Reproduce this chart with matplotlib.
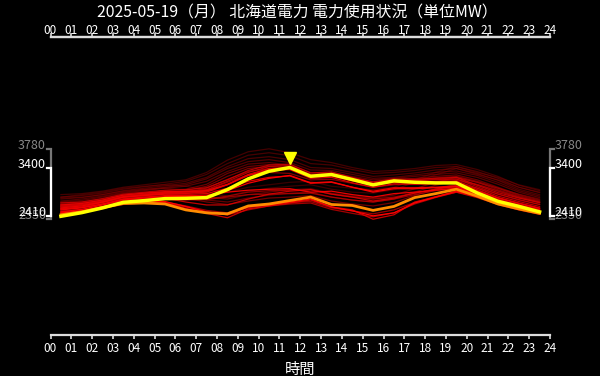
import matplotlib
matplotlib.use("Agg")
import matplotlib.pyplot as plt
from matplotlib.transforms import blended_transform_factory, ScaledTranslation
import numpy as np

plt.rcParams['font.family'] = ['Noto Sans CJK JP', 'DejaVu Sans']

title = "2025-05-19（月） 北海道電力 電力使用状況（単位MW）"
xlabel = "時間"
hours = [h + 0.5 for h in range(24)]
xtick_labels = [f"{h:02d}" for h in range(25)]

# past days, oldest first (darker -> brighter red)
past_days = [
    [2800, 2850, 2900, 2980, 3020, 3050, 3020, 2950, 2900, 3000, 3050, 3100, 3120, 3020, 2980, 2950, 3000, 3150, 3300, 3420, 3300, 3200, 3050, 2950],
    [2780, 2800, 2850, 2920, 2960, 2980, 2950, 2880, 2820, 2920, 2980, 3020, 3050, 2960, 2900, 2880, 2950, 3100, 3250, 3380, 3260, 3150, 3000, 2900],
    [2850, 2870, 2920, 3000, 3050, 3100, 3150, 3300, 3550, 3720, 3780, 3700, 3560, 3500, 3400, 3320, 3340, 3380, 3440, 3460, 3360, 3220, 3040, 2930],
    [2800, 2830, 2880, 2960, 3010, 3060, 3120, 3260, 3480, 3650, 3700, 3640, 3480, 3450, 3360, 3280, 3300, 3340, 3400, 3420, 3320, 3180, 3000, 2890],
    [2760, 2790, 2850, 2930, 2980, 3030, 3080, 3200, 3420, 3580, 3620, 3560, 3400, 3380, 3300, 3220, 3250, 3290, 3350, 3380, 3280, 3140, 2960, 2850],
    [2720, 2760, 2820, 2900, 2950, 3000, 3050, 3170, 3380, 3520, 3560, 3500, 3350, 3340, 3260, 3180, 3200, 3250, 3300, 3330, 3240, 3100, 2930, 2820],
    [2700, 2730, 2800, 2880, 2930, 2980, 3020, 3120, 3320, 3470, 3500, 3450, 3300, 3300, 3220, 3150, 3180, 3220, 3260, 3290, 3200, 3060, 2900, 2790],
    [2680, 2700, 2760, 2840, 2880, 2900, 2870, 2800, 2760, 2850, 2900, 2950, 2970, 2880, 2820, 2780, 2840, 2970, 3100, 3200, 3100, 2980, 2860, 2760],
    [2650, 2680, 2730, 2800, 2840, 2860, 2820, 2740, 2700, 2780, 2840, 2880, 2900, 2800, 2740, 2700, 2760, 2900, 3040, 3140, 3050, 2930, 2800, 2700],
    [2650, 2680, 2740, 2830, 2880, 2930, 2960, 3060, 3280, 3420, 3460, 3420, 3260, 3280, 3180, 3100, 3150, 3180, 3220, 3250, 3150, 3000, 2850, 2740],
    [2620, 2650, 2700, 2770, 2800, 2820, 2780, 2700, 2650, 2720, 2780, 2800, 2830, 2720, 2660, 2620, 2690, 2830, 2960, 3060, 2980, 2860, 2740, 2650],
    [2620, 2650, 2720, 2800, 2850, 2900, 2930, 3020, 3220, 3380, 3420, 3400, 3230, 3250, 3160, 3080, 3120, 3150, 3190, 3220, 3120, 2980, 2830, 2720],
    [2600, 2640, 2700, 2790, 2840, 2880, 2900, 2980, 3160, 3320, 3380, 3360, 3200, 3220, 3130, 3060, 3100, 3120, 3160, 3200, 3100, 2950, 2810, 2700],
    [2600, 2620, 2690, 2770, 2820, 2860, 2870, 2940, 3100, 3250, 3300, 3280, 3150, 3160, 3080, 3000, 3050, 3080, 3120, 3160, 3060, 2920, 2790, 2680],
    [2560, 2590, 2640, 2720, 2750, 2780, 2760, 2760, 2820, 2900, 2930, 2940, 2950, 2860, 2800, 2760, 2800, 2880, 2960, 3020, 2920, 2780, 2660, 2570],
    [2520, 2550, 2610, 2690, 2720, 2750, 2740, 2750, 2800, 2850, 2860, 2870, 2880, 2800, 2740, 2700, 2760, 2850, 2930, 2990, 2880, 2740, 2620, 2530],
    [2500, 2530, 2590, 2670, 2700, 2700, 2620, 2530, 2480, 2580, 2650, 2690, 2710, 2580, 2520, 2460, 2540, 2690, 2810, 2920, 2840, 2720, 2600, 2510],
    [2480, 2510, 2570, 2650, 2680, 2680, 2600, 2500, 2440, 2540, 2620, 2660, 2680, 2550, 2470, 2400, 2480, 2660, 2790, 2900, 2820, 2700, 2580, 2490],
    [2620, 2650, 2720, 2820, 2860, 2900, 2920, 2950, 3120, 3300, 3420, 3440, 3260, 3280, 3180, 3090, 3150, 3140, 3150, 3170, 3010, 2860, 2750, 2650],
    [2680, 2700, 2770, 2860, 2900, 2940, 2950, 2990, 3150, 3340, 3450, 3470, 3290, 3310, 3200, 3110, 3170, 3160, 3180, 3200, 3040, 2890, 2780, 2690],
    [2600, 2640, 2710, 2810, 2850, 2890, 2900, 2920, 3050, 3240, 3360, 3400, 3220, 3240, 3140, 3060, 3110, 3100, 3110, 3130, 2980, 2820, 2710, 2610],
    [2560, 2590, 2660, 2750, 2780, 2780, 2700, 2640, 2640, 2760, 2860, 2920, 2950, 2860, 2800, 2720, 2780, 2880, 2960, 3020, 2900, 2760, 2640, 2550],
    [2460, 2500, 2590, 2690, 2710, 2690, 2570, 2470, 2380, 2560, 2620, 2680, 2740, 2600, 2540, 2350, 2440, 2700, 2800, 2900, 2790, 2650, 2540, 2450],
    [2560, 2600, 2690, 2800, 2840, 2880, 2880, 2900, 3050, 3260, 3380, 3400, 3220, 3240, 3130, 3040, 3100, 3090, 3100, 3110, 2950, 2790, 2680, 2580],
    [2640, 2670, 2740, 2840, 2880, 2910, 2910, 2930, 3060, 3240, 3340, 3360, 3180, 3200, 3090, 3000, 3070, 3060, 3070, 3090, 2930, 2780, 2670, 2570],
    [2580, 2620, 2700, 2800, 2830, 2860, 2860, 2870, 2980, 3120, 3200, 3230, 3080, 3100, 3000, 2920, 2990, 2990, 3000, 3030, 2880, 2740, 2630, 2540],
    [2540, 2580, 2660, 2760, 2800, 2830, 2830, 2840, 2900, 2940, 2960, 2970, 2900, 2920, 2850, 2800, 2870, 2900, 2940, 2980, 2850, 2720, 2610, 2520],
    [2500, 2550, 2640, 2740, 2780, 2810, 2810, 2820, 2930, 3080, 3180, 3240, 3090, 3110, 3000, 2900, 2970, 2970, 2990, 3010, 2860, 2710, 2600, 2500],
    [2480, 2520, 2600, 2700, 2720, 2710, 2610, 2500, 2440, 2600, 2640, 2700, 2760, 2600, 2520, 2420, 2480, 2680, 2800, 2920, 2810, 2670, 2560, 2470],
]
yesterday = [2440, 2500, 2590, 2670, 2680, 2660, 2540, 2480, 2460, 2620, 2660, 2730, 2800, 2650, 2630, 2530, 2610, 2790, 2870, 2960, 2820, 2660, 2560, 2470]
today = [2410, 2484, 2580, 2694, 2728, 2769, 2775, 2789, 2952, 3170, 3325, 3400, 3223, 3258, 3156, 3048, 3129, 3101, 3088, 3088, 2885, 2714, 2612, 2500]

W, H = 600, 376
fig = plt.figure(figsize=(W / 100, H / 100), dpi=100, facecolor='black')
ax = fig.add_axes([50.5 / W, (H - 335) / H, (550 - 50.5) / W, (335 - 37) / H])
ax.set_facecolor('black')

n = len(past_days)
for i, d in enumerate(past_days):
    t = i / (n - 1)
    col = (0.5 + 0.5 * t, 0.0, 0.0)
    ax.plot(hours, d, color=col, lw=0.9, alpha=0.45 + 0.55 * t)
ax.plot(hours, yesterday, color='#ff8c00', lw=2.0)
ax.plot(hours, today, color='#ffff00', lw=2.5)

imax = int(np.argmax(today))
ax.plot([hours[imax]], [today[imax]], marker='v', color='#ffff00', ms=8,
        linestyle='none', clip_on=False,
        transform=ax.transData + ScaledTranslation(0, 10 / 100, fig.dpi_scale_trans))

ax.set_xlim(0, 24)
ax.set_ylim(0, 6050)
ax.set_xticks(range(25))
ax.set_xticklabels(xtick_labels)
ax.tick_params(axis='x', top=False, labeltop=False, bottom=True, labelbottom=True,
               colors='#dddddd', labelcolor='white', labelsize=8.5, length=3, width=1.2, pad=2,
               direction='out')
sec = ax.secondary_xaxis('top')
sec.set_xticks(range(25))
sec.set_xticklabels(xtick_labels)
sec.tick_params(axis='x', colors='#dddddd', labelcolor='white', labelsize=8.5, length=3,
                width=1.2, pad=-3, direction='out')
sec.spines['top'].set_color('#dddddd')
sec.spines['top'].set_linewidth(1.6)

ax.set_yticks([])
for s in ['left', 'right']:
    ax.spines[s].set_visible(False)
for s in ['top', 'bottom']:
    ax.spines[s].set_color('#dddddd')
    ax.spines[s].set_linewidth(1.6)
ax.set_xlabel(xlabel, color='white', fontsize=11, labelpad=4)

fig.text(0.495, 1 - 13 / H, title, color='white', fontsize=11.4, ha='center', va='center')

# range brackets
all_vals = np.concatenate([np.array(past_days).ravel(), yesterday, today])
amin, amax = int(all_vals.min()), int(all_vals.max())
tmin, tmax = int(min(today)), int(max(today))
tr = blended_transform_factory(ax.transAxes, ax.transData)
tk = 3.5 / 499.5
for side in [0, 1]:
    x0 = 0.0 if side == 0 else 1.0
    dx = -tk if side == 0 else tk
    for lo, hi, col in [(amin, amax, '#777777'), (tmin, tmax, '#ffffff')]:
        ax.plot([x0 + dx, x0, x0, x0 + dx], [hi, hi, lo, lo], color=col, lw=1.6,
                transform=tr, clip_on=False, solid_joinstyle='miter')
    tx = -4.5 / 499.5 if side == 0 else 1 + 4.5 / 499.5
    ha = 'right' if side == 0 else 'left'
    for v, col in [(amax, '#888888'), (amin, '#888888'), (tmax, '#ffffff'), (tmin, '#ffffff')]:
        ax.text(tx, v, str(v), color=col, fontsize=9, ha=ha, va='baseline', transform=tr)

fig.savefig('out.png', dpi=100, facecolor='black')
